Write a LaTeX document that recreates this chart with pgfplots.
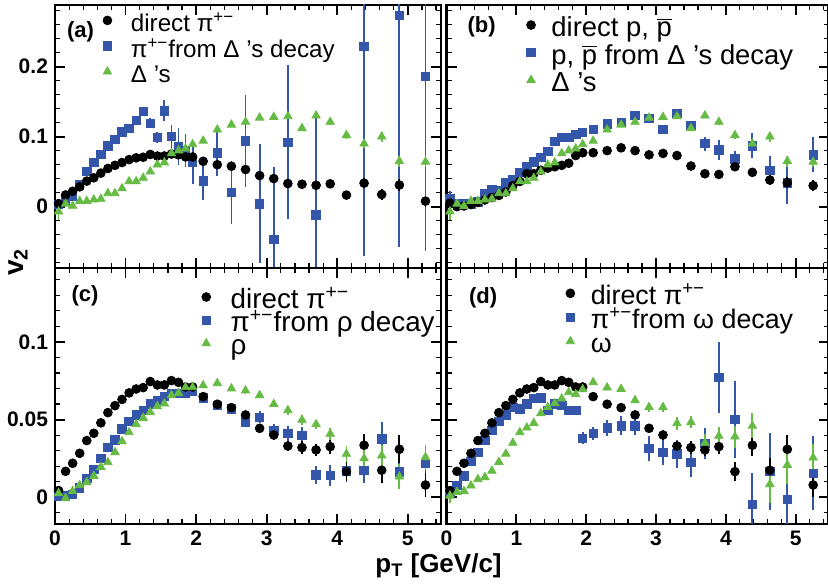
\documentclass[border=0pt]{standalone}
\usepackage{fontspec}
\setmainfont{Liberation Sans}
\usepackage{pgfplots}
\usepackage{pgfplotstable}
\pgfplotsset{compat=1.18}
\definecolor{rblue}{HTML}{3355AA}
\definecolor{rgreen}{HTML}{66BB44}

% direct pi+- (panels a, c, d)
\pgfplotstableread{
x y e
0.05 0.0043 0.001
0.15 0.0167 0.001
0.25 0.0219 0.001
0.35 0.0283 0.001
0.45 0.0365 0.001
0.55 0.0412 0.001
0.65 0.0479 0.001
0.75 0.0545 0.001
0.85 0.0590 0.001
0.95 0.0630 0.001
1.05 0.0672 0.001
1.15 0.0697 0.001
1.25 0.0706 0.001
1.35 0.0745 0.001
1.45 0.0723 0.001
1.55 0.0723 0.001
1.65 0.0751 0.001
1.75 0.0740 0.001
1.85 0.0710 0.001
1.95 0.0710 0.001
2.1 0.0648 0.0015
2.3 0.0599 0.002
2.5 0.0577 0.002
2.7 0.0530 0.0025
2.9 0.0444 0.003
3.1 0.0401 0.003
3.3 0.0330 0.003
3.5 0.0320 0.004
3.7 0.0305 0.004
3.9 0.0326 0.005
4.13 0.0165 0.006
4.38 0.0335 0.007
4.63 0.0174 0.008
4.88 0.0309 0.009
5.25 0.0079 0.008
}\dirpi

% pi+- from Delta decay (a)
\pgfplotstableread{
x y e
0.05 0.003 0.002
0.15 0.0096 0.002
0.25 0.015 0.002
0.35 0.031 0.002
0.45 0.050 0.002
0.55 0.063 0.002
0.65 0.075 0.002
0.75 0.087 0.002
0.85 0.096 0.002
0.95 0.107 0.003
1.05 0.112 0.003
1.15 0.123 0.003
1.25 0.136 0.005
1.35 0.119 0.007
1.45 0.099 0.008
1.55 0.137 0.015
1.65 0.100 0.017
1.75 0.086 0.026
1.85 0.080 0.024
1.95 0.063 0.030
2.1 0.037 0.027
2.3 0.077 0.033
2.5 0.020 0.045
2.7 0.094 0.066
2.9 0.004 0.085
3.1 -0.047 0.104
3.3 0.092 0.11
3.7 -0.012 0.145
4.38 0.229 0.30
4.88 0.273 0.33
5.25 0.186 0.25
}\pidel

% Delta's (a, b)
\pgfplotstableread{
x y e
0.05 -0.007 0.012
0.15 0.004 0.003
0.25 0.001 0.002
0.35 0.008 0.002
0.45 0.008 0.002
0.55 0.010 0.002
0.65 0.011 0.002
0.75 0.019 0.002
0.85 0.019 0.002
0.95 0.026 0.002
1.05 0.036 0.002
1.15 0.036 0.002
1.25 0.041 0.002
1.35 0.050 0.002
1.45 0.060 0.002
1.55 0.063 0.002
1.65 0.076 0.002
1.75 0.080 0.002
1.85 0.083 0.002
1.95 0.089 0.002
2.1 0.094 0.002
2.3 0.110 0.003
2.5 0.117 0.003
2.7 0.121 0.003
2.9 0.127 0.003
3.1 0.128 0.003
3.3 0.129 0.004
3.5 0.112 0.004
3.7 0.130 0.004
3.9 0.121 0.004
4.13 0.102 0.005
4.38 0.090 0.006
4.63 0.100 0.007
4.88 0.065 0.008
5.25 0.064 0.008
}\delta

% direct p, pbar (b)
\pgfplotstableread{
x y e
0.05 0.005 0.002
0.15 0.000 0.001
0.25 0.001 0.001
0.35 0.003 0.001
0.45 0.006 0.001
0.55 0.0096 0.001
0.65 0.013 0.001
0.75 0.016 0.001
0.85 0.021 0.001
0.95 0.030 0.001
1.05 0.036 0.001
1.15 0.047 0.001
1.25 0.047 0.001
1.35 0.052 0.001
1.45 0.055 0.001
1.55 0.057 0.001
1.65 0.059 0.001
1.75 0.062 0.001
1.85 0.073 0.001
1.95 0.077 0.001
2.1 0.077 0.002
2.3 0.080 0.002
2.5 0.084 0.002
2.7 0.080 0.002
2.9 0.074 0.003
3.1 0.076 0.003
3.3 0.073 0.003
3.5 0.058 0.004
3.7 0.047 0.005
3.9 0.046 0.006
4.13 0.057 0.006
4.38 0.049 0.006
4.63 0.038 0.007
4.88 0.034 0.008
5.25 0.030 0.008
}\dirp

% p, pbar from Delta decay (b)
\pgfplotstableread{
x y e
0.05 0.011 0.012
0.15 0.005 0.002
0.25 0.005 0.002
0.35 0.004 0.002
0.45 0.0065 0.002
0.55 0.019 0.002
0.65 0.025 0.002
0.75 0.023 0.002
0.85 0.034 0.002
0.95 0.039 0.002
1.05 0.049 0.002
1.15 0.057 0.002
1.25 0.064 0.002
1.35 0.070 0.002
1.45 0.079 0.002
1.55 0.093 0.002
1.65 0.099 0.002
1.75 0.099 0.002
1.85 0.103 0.002
1.95 0.106 0.002
2.1 0.110 0.002
2.3 0.118 0.002
2.5 0.120 0.003
2.7 0.130 0.003
2.9 0.126 0.003
3.1 0.110 0.004
3.3 0.133 0.005
3.5 0.116 0.007
3.7 0.090 0.010
3.9 0.081 0.014
4.13 0.068 0.012
4.38 0.087 0.018
4.63 0.052 0.020
4.88 0.034 0.030
5.25 0.074 0.025
}\pdel

% pi+- from rho decay (c)
\pgfplotstableread{
x y e
0.05 0.0004 0.001
0.15 0.0010 0.001
0.25 0.0020 0.001
0.35 0.0060 0.001
0.45 0.0120 0.001
0.55 0.0180 0.001
0.65 0.0250 0.001
0.75 0.0320 0.001
0.85 0.0370 0.001
0.95 0.0440 0.001
1.05 0.0490 0.001
1.15 0.0530 0.001
1.25 0.0560 0.001
1.35 0.0600 0.001
1.45 0.0620 0.001
1.55 0.0650 0.001
1.65 0.0670 0.001
1.75 0.0670 0.001
1.85 0.0670 0.001
1.95 0.0680 0.001
2.1 0.0640 0.0015
2.3 0.0590 0.002
2.5 0.0570 0.002
2.7 0.0485 0.003
2.9 0.0515 0.004
3.1 0.0430 0.004
3.3 0.0410 0.005
3.5 0.0400 0.005
3.7 0.0144 0.006
3.9 0.0140 0.007
4.13 0.0170 0.007
4.38 0.0174 0.008
4.63 0.0376 0.011
4.88 0.0163 0.008
5.25 0.0220 0.010
}\pirho

% rho (c)
\pgfplotstableread{
x y e
0.05 0.0026 0.002
0.15 -0.0006 0.001
0.25 0.0040 0.001
0.35 0.0077 0.001
0.45 0.0097 0.001
0.55 0.0137 0.001
0.65 0.0195 0.001
0.75 0.0225 0.001
0.85 0.0290 0.001
0.95 0.0360 0.001
1.05 0.0418 0.001
1.15 0.0470 0.001
1.25 0.0510 0.001
1.35 0.0547 0.001
1.45 0.0586 0.001
1.55 0.0603 0.001
1.65 0.0657 0.001
1.75 0.0670 0.001
1.85 0.0708 0.001
1.95 0.0708 0.001
2.1 0.0720 0.001
2.3 0.0734 0.0015
2.5 0.0700 0.0015
2.7 0.0687 0.002
2.9 0.0657 0.002
3.1 0.0600 0.002
3.3 0.0560 0.003
3.5 0.0498 0.003
3.7 0.0470 0.003
3.9 0.0408 0.004
4.13 0.0279 0.005
4.38 0.0250 0.006
4.63 0.0268 0.007
4.88 0.0133 0.008
5.25 0.0258 0.008
}\rho

% pi+- from omega decay (d)
\pgfplotstableread{
x y e
0.05 0.0032 0.002
0.15 0.0075 0.001
0.25 0.0137 0.001
0.35 0.0230 0.001
0.45 0.0290 0.001
0.55 0.0365 0.001
0.65 0.0430 0.001
0.75 0.0490 0.001
0.85 0.0530 0.001
0.95 0.0580 0.001
1.05 0.0570 0.001
1.15 0.0600 0.001
1.25 0.0635 0.001
1.35 0.0640 0.001
1.45 0.0560 0.002
1.55 0.0600 0.002
1.65 0.0590 0.002
1.75 0.0558 0.003
1.85 0.0560 0.003
1.95 0.0380 0.004
2.1 0.0410 0.004
2.3 0.0446 0.005
2.5 0.0460 0.006
2.7 0.0460 0.006
2.9 0.0315 0.008
3.1 0.0290 0.008
3.3 0.0280 0.009
3.5 0.0223 0.009
3.7 0.0348 0.010
3.9 0.0770 0.023
4.13 0.0500 0.025
4.38 -0.0045 0.020
4.63 0.0165 0.025
4.88 -0.0013 0.030
5.25 0.0155 0.024
}\piomega

% omega (d)
\pgfplotstableread{
x y e
0.05 0.0010 0.005
0.15 0.0034 0.001
0.25 0.0040 0.001
0.35 0.0075 0.001
0.45 0.0116 0.001
0.55 0.0129 0.001
0.65 0.0170 0.001
0.75 0.0227 0.001
0.85 0.0280 0.001
0.95 0.0350 0.001
1.05 0.0418 0.001
1.15 0.0448 0.001
1.25 0.0478 0.001
1.35 0.0540 0.001
1.45 0.0580 0.001
1.55 0.0605 0.001
1.65 0.0635 0.001
1.75 0.0676 0.001
1.85 0.0663 0.001
1.95 0.0695 0.001
2.1 0.0740 0.001
2.3 0.0706 0.0015
2.5 0.0697 0.002
2.7 0.0624 0.002
2.9 0.0580 0.003
3.1 0.0580 0.003
3.3 0.0476 0.004
3.5 0.0483 0.004
3.7 0.0350 0.006
3.9 0.0395 0.006
4.13 0.0390 0.007
4.38 0.0460 0.008
4.63 0.0084 0.012
4.88 0.0208 0.012
5.25 0.0255 0.009
}\omega

\pgfplotsset{
  rootax/.style={
    scale only axis, anchor=south west,
    xmin=0, xmax=5.47,
    axis line style={line width=1.2pt},
    tick align=inside, xtick pos=both, ytick pos=both,
    major tick length=5pt, minor tick length=2.5pt,
    major tick style={line width=0.9pt, black},
    minor tick style={line width=0.6pt, black},
    xtick={0,1,2,3,4,5}, xticklabels={0,1,2,3,4,5},
    minor xtick={0.2,0.4,0.6,0.8,1.2,1.4,1.6,1.8,2.2,2.4,2.6,2.8,3.2,3.4,3.6,3.8,4.2,4.4,4.6,4.8,5.2,5.4},
    ticklabel style={font=\bfseries\fontsize{10.5}{12}\selectfont},
    /pgf/number format/assume math mode=true,
    legend style={draw=none, fill=none, inner sep=0pt, outer sep=0pt, anchor=north west},
    legend cell align=left,
    legend image code/.code={\path (0cm,0cm) (0.5cm,0cm);
      \draw[mark repeat=2,mark phase=2,##1,only marks] plot coordinates {(0cm,0cm)(0.25cm,0cm)(0.5cm,0cm)};},
  },
  topax/.style={ymin=-0.0876, ymax=0.288, ytick={0,0.1,0.2}, yticklabels={0,0.1,0.2},
    minor ytick={-0.08,-0.06,-0.04,-0.02,0.02,0.04,0.06,0.08,0.12,0.14,0.16,0.18,0.22,0.24,0.26,0.28},
    height=131.5pt},
  botax/.style={ymin=-0.0172, ymax=0.1476, ytick={0,0.05,0.1}, yticklabels={0,0.05,0.1},
    minor ytick={-0.01,0.01,0.02,0.03,0.04,0.06,0.07,0.08,0.09,0.11,0.12,0.13,0.14},
    height=128pt},
  dat/.style={forget plot, only marks, error bars/.cd, y dir=both, y explicit, error mark=none,
    error bar style={line width=0.9pt}},
  mblk/.style={black, mark=*, mark size=2.2pt},
  mblu/.style={rblue, mark=square*, mark size=2.1pt},
  mgrn/.style={rgreen, mark=triangle*, mark size=2.4pt},
}

\begin{document}
\begin{tikzpicture}
\useasboundingbox (0,0) rectangle (414pt,293.5pt);

% (a)
\begin{axis}[rootax, topax, at={(27.5pt,159.5pt)}, width=193pt, xticklabels={},
  legend style={at={(axis description cs:0.098,0.990)}, font=\fontsize{12.1}{12}\selectfont,
    nodes={inner xsep=4.4pt, inner ysep=0pt, text height=11.9pt, text depth=0.9pt}}]
\addlegendimage{mblk}\addlegendentry{direct π\textsuperscript{+−}}
\addlegendimage{mblu}\addlegendentry{π\textsuperscript{+−}from Δ 's decay}
\addlegendimage{mgrn}\addlegendentry{Δ 's}
\addplot[mblu, dat] table[x=x, y=y, y error=e] {\pidel};
\addplot[mblk, dat] table[x=x, y=y, y error=e] {\dirpi};
\addplot[mgrn, dat] table[x=x, y=y, y error=e] {\delta};
\node[font=\bfseries\fontsize{11}{11}\selectfont] at (axis description cs:0.066,0.897) {(a)};
\end{axis}

% (b)
\begin{axis}[rootax, topax, at={(223.25pt,159.5pt)}, width=191pt, xticklabels={}, yticklabels={},
  legend style={at={(axis description cs:0.183,0.976)}, font=\fontsize{13.7}{14}\selectfont,
    nodes={inner xsep=2.9pt, inner ysep=0pt, text height=12.7pt, text depth=1.05pt}}]
\addlegendimage{mblk}\addlegendentry{direct p, $\overline{\mbox{p}}$}
\addlegendimage{mblu}\addlegendentry{p, $\overline{\mbox{p}}$ from Δ 's decay}
\addlegendimage{mgrn}\addlegendentry{Δ 's}
\addplot[mblu, dat] table[x=x, y=y, y error=e] {\pdel};
\addplot[mblk, dat] table[x=x, y=y, y error=e] {\dirp};
\addplot[mgrn, dat] table[x=x, y=y, y error=e] {\delta};
\node[font=\bfseries\fontsize{11}{11}\selectfont] at (axis description cs:0.092,0.916) {(b)};
\end{axis}

% (c)
\begin{axis}[rootax, botax, at={(27.5pt,31.5pt)}, width=193pt,
  legend style={at={(axis description cs:0.354,0.932)}, font=\fontsize{13.9}{14}\selectfont,
    nodes={inner xsep=4.9pt, inner ysep=0pt, text height=11.6pt, text depth=0pt}}]
\addlegendimage{mblk}\addlegendentry{direct π\textsuperscript{+−}}
\addlegendimage{mblu}\addlegendentry{π\textsuperscript{+−}from ρ decay}
\addlegendimage{mgrn}\addlegendentry{ρ}
\addplot[mblu, dat] table[x=x, y=y, y error=e] {\pirho};
\addplot[mblk, dat] table[x=x, y=y, y error=e] {\dirpi};
\addplot[mgrn, dat] table[x=x, y=y, y error=e] {\rho};
\node[font=\bfseries\fontsize{11}{11}\selectfont] at (axis description cs:0.078,0.891) {(c)};
\end{axis}

% (d)
\begin{axis}[rootax, botax, at={(223.25pt,31.5pt)}, width=191pt, yticklabels={},
  legend style={at={(axis description cs:0.286,0.948)}, font=\fontsize{13.4}{14}\selectfont,
    nodes={inner xsep=2.9pt, inner ysep=0pt, text height=11.8pt, text depth=0.2pt}}]
\addlegendimage{mblk}\addlegendentry{direct π\textsuperscript{+−}}
\addlegendimage{mblu}\addlegendentry{π\textsuperscript{+−}from ω decay}
\addlegendimage{mgrn}\addlegendentry{ω}
\addplot[mblu, dat] table[x=x, y=y, y error=e] {\piomega};
\addplot[mblk, dat] table[x=x, y=y, y error=e] {\dirpi};
\addplot[mgrn, dat] table[x=x, y=y, y error=e] {\omega};
\node[font=\bfseries\fontsize{11}{11}\selectfont] at (axis description cs:0.096,0.885) {(d)};
\end{axis}

\node[rotate=90, font=\bfseries\fontsize{14}{14}\selectfont] at (9pt,162.5pt) {v\textsubscript{2}};
\node[font=\bfseries\fontsize{13}{13}\selectfont] at (219.25pt,10.5pt) {p\textsubscript{T} [GeV/c]};
\end{tikzpicture}
\end{document}
